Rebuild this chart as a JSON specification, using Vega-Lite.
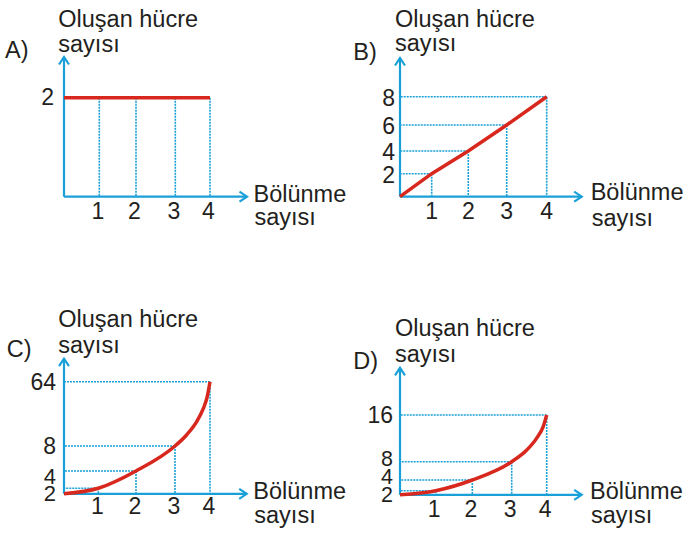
{
  "$schema": "https://vega.github.io/schema/vega-lite/v6.json",
  "width": 686,
  "height": 534,
  "autosize": {"type": "none"},
  "padding": 0,
  "background": "white",
  "datasets": {
    "A": [{"bolunme": 0, "hucre": 2}, {"bolunme": 1, "hucre": 2}, {"bolunme": 2, "hucre": 2}, {"bolunme": 3, "hucre": 2}, {"bolunme": 4, "hucre": 2}],
    "B": [{"bolunme": 0, "hucre": 0}, {"bolunme": 1, "hucre": 2}, {"bolunme": 2, "hucre": 4}, {"bolunme": 3, "hucre": 6}, {"bolunme": 4, "hucre": 8}],
    "C": [{"bolunme": 0, "hucre": 1}, {"bolunme": 1, "hucre": 2}, {"bolunme": 2, "hucre": 4}, {"bolunme": 3, "hucre": 8}, {"bolunme": 4, "hucre": 64}],
    "C_egri": [{"bolunme": 0, "hucre": 1}, {"bolunme": 1, "hucre": 2}, {"bolunme": 2, "hucre": 4}, {"bolunme": 3, "hucre": 8}, {"bolunme": 3.33, "hucre": 17.6}, {"bolunme": 3.62, "hucre": 29.2}, {"bolunme": 3.81, "hucre": 40.8}, {"bolunme": 3.92, "hucre": 50.9}, {"bolunme": 4, "hucre": 64}],
    "D": [{"bolunme": 0, "hucre": 1}, {"bolunme": 1, "hucre": 2}, {"bolunme": 2, "hucre": 4}, {"bolunme": 3, "hucre": 8}, {"bolunme": 4, "hucre": 16}],
    "D_egri": [{"bolunme": 0, "hucre": 1}, {"bolunme": 1, "hucre": 2}, {"bolunme": 2, "hucre": 4}, {"bolunme": 3, "hucre": 8}, {"bolunme": 3.43, "hucre": 10.0}, {"bolunme": 3.71, "hucre": 12.0}, {"bolunme": 3.9, "hucre": 14.0}, {"bolunme": 4, "hucre": 16}]
  },
  "resolve": {"scale": {"x": "independent", "y": "independent"}},
  "layer": [
    {
      "data": {"name": "A"},
      "layer": [
        {"transform": [{"filter": "datum.bolunme > 0"}],
         "mark": {"type": "rule", "color": "#19a0d8", "strokeWidth": 1.6, "strokeDash": [2, 1]},
         "encoding": {
           "x": {"field": "bolunme", "type": "quantitative", "scale": {"domain": [0, 1, 2, 3, 4, 5], "range": [64, 99.3, 136, 175.3, 210, 247]}},
           "y": {"field": "hucre", "type": "quantitative", "scale": {"domain": [0, 2, 3], "range": [196.7, 97.7, 57]}},
           "y2": {"datum": 0}}},
        {"transform": [{"filter": "datum.bolunme > 0"}],
         "mark": {"type": "rule", "color": "#19a0d8", "strokeWidth": 1.6, "strokeDash": [2, 1]},
         "encoding": {"x": {"field": "bolunme", "type": "quantitative"}, "x2": {"datum": 0}, "y": {"field": "hucre", "type": "quantitative"}}},
        {"data": {"values": [{}]}, "mark": {"type": "rule", "color": "#19a0d8", "strokeWidth": 2.2},
         "encoding": {"x": {"datum": 0}, "y": {"datum": 0}, "y2": {"datum": 3}}},
        {"data": {"values": [{}]}, "mark": {"type": "rule", "color": "#19a0d8", "strokeWidth": 2.2},
         "encoding": {"x": {"datum": 0}, "x2": {"datum": 5}, "y": {"datum": 0}}},
        {"data": {"values": [{}]}, "mark": {"type": "point", "shape": "M-1,1.5L0,0L1,1.5", "filled": false, "stroke": "#19a0d8", "strokeWidth": 2.2, "size": 100, "opacity": 1},
         "encoding": {"x": {"datum": 0}, "y": {"datum": 3}}},
        {"data": {"values": [{}]}, "mark": {"type": "point", "shape": "M-1.5,-1L0,0L-1.5,1", "filled": false, "stroke": "#19a0d8", "strokeWidth": 2.2, "size": 100, "opacity": 1},
         "encoding": {"x": {"datum": 5}, "y": {"datum": 0}}},
        {"mark": {"type": "line", "color": "#d8281e", "strokeWidth": 3.5},
         "encoding": {"x": {"field": "bolunme", "type": "quantitative"}, "y": {"field": "hucre", "type": "quantitative"}}},
        {"transform": [{"filter": "datum.bolunme > 0"}],
         "mark": {"type": "text", "dy": 15, "dx": -1.5},
         "encoding": {"x": {"field": "bolunme", "type": "quantitative"}, "y": {"datum": 0}, "text": {"field": "bolunme", "type": "quantitative"}}},
        {"transform": [{"filter": "datum.bolunme > 0"}, {"aggregate": [{"op": "count", "as": "n"}], "groupby": ["hucre"]}],
         "mark": {"type": "text", "align": "right", "dx": -10, "dy": 0},
         "encoding": {"x": {"datum": 0}, "y": {"field": "hucre", "type": "quantitative"}, "text": {"field": "hucre", "type": "quantitative"}}},
        {"data": {"values": [{}]}, "mark": {"type": "text", "text": "Oluşan hücre", "fontSize": 23.5, "align": "left", "baseline": "alphabetic", "dx": -5.7, "dy": -30.3},
         "encoding": {"x": {"datum": 0}, "y": {"datum": 3}}},
        {"data": {"values": [{}]}, "mark": {"type": "text", "text": "sayısı", "fontSize": 23.5, "align": "left", "baseline": "alphabetic", "dx": -5.7, "dy": -5.3},
         "encoding": {"x": {"datum": 0}, "y": {"datum": 3}}},
        {"data": {"values": [{}]}, "mark": {"type": "text", "text": "A)", "fontSize": 23.5, "align": "left", "baseline": "alphabetic", "dx": -59, "dy": 1},
         "encoding": {"x": {"datum": 0}, "y": {"datum": 3}}},
        {"data": {"values": [{}]}, "mark": {"type": "text", "text": "Bölünme", "fontSize": 23.5, "align": "left", "baseline": "alphabetic", "dx": 6.5, "dy": 5},
         "encoding": {"x": {"datum": 5}, "y": {"datum": 0}}},
        {"data": {"values": [{}]}, "mark": {"type": "text", "text": "sayısı", "fontSize": 23.5, "align": "left", "baseline": "alphabetic", "dx": 7.5, "dy": 28.5},
         "encoding": {"x": {"datum": 5}, "y": {"datum": 0}}}
      ]
    },
    {
      "data": {"name": "B"},
      "layer": [
        {"transform": [{"filter": "datum.bolunme > 0"}],
         "mark": {"type": "rule", "color": "#19a0d8", "strokeWidth": 1.6, "strokeDash": [2, 1]},
         "encoding": {
           "x": {"field": "bolunme", "type": "quantitative", "scale": {"domain": [0, 1, 2, 3, 4, 5], "range": [400, 431.7, 468.3, 506.7, 546.7, 581.7]}},
           "y": {"field": "hucre", "type": "quantitative", "scale": {"domain": [0, 2, 4, 6, 8, 10], "range": [196.7, 173.7, 151, 125, 96.7, 58]}},
           "y2": {"datum": 0}}},
        {"transform": [{"filter": "datum.bolunme > 0"}],
         "mark": {"type": "rule", "color": "#19a0d8", "strokeWidth": 1.6, "strokeDash": [2, 1]},
         "encoding": {"x": {"field": "bolunme", "type": "quantitative"}, "x2": {"datum": 0}, "y": {"field": "hucre", "type": "quantitative"}}},
        {"data": {"values": [{}]}, "mark": {"type": "rule", "color": "#19a0d8", "strokeWidth": 2.2},
         "encoding": {"x": {"datum": 0}, "y": {"datum": 0}, "y2": {"datum": 10}}},
        {"data": {"values": [{}]}, "mark": {"type": "rule", "color": "#19a0d8", "strokeWidth": 2.2},
         "encoding": {"x": {"datum": 0}, "x2": {"datum": 5}, "y": {"datum": 0}}},
        {"data": {"values": [{}]}, "mark": {"type": "point", "shape": "M-1,1.5L0,0L1,1.5", "filled": false, "stroke": "#19a0d8", "strokeWidth": 2.2, "size": 100, "opacity": 1},
         "encoding": {"x": {"datum": 0}, "y": {"datum": 10}}},
        {"data": {"values": [{}]}, "mark": {"type": "point", "shape": "M-1.5,-1L0,0L-1.5,1", "filled": false, "stroke": "#19a0d8", "strokeWidth": 2.2, "size": 100, "opacity": 1},
         "encoding": {"x": {"datum": 5}, "y": {"datum": 0}}},
        {"mark": {"type": "line", "color": "#d8281e", "strokeWidth": 3.5},
         "encoding": {"x": {"field": "bolunme", "type": "quantitative"}, "y": {"field": "hucre", "type": "quantitative"}}},
        {"transform": [{"filter": "datum.bolunme > 0"}],
         "mark": {"type": "text", "dy": 15, "dx": 0},
         "encoding": {"x": {"field": "bolunme", "type": "quantitative"}, "y": {"datum": 0}, "text": {"field": "bolunme", "type": "quantitative"}}},
        {"transform": [{"filter": "datum.bolunme > 0"}, {"aggregate": [{"op": "count", "as": "n"}], "groupby": ["hucre"]}],
         "mark": {"type": "text", "align": "right", "dx": -5, "dy": 2},
         "encoding": {"x": {"datum": 0}, "y": {"field": "hucre", "type": "quantitative"}, "text": {"field": "hucre", "type": "quantitative"}}},
        {"data": {"values": [{}]}, "mark": {"type": "text", "text": "Oluşan hücre", "fontSize": 23.5, "align": "left", "baseline": "alphabetic", "dx": -5, "dy": -31},
         "encoding": {"x": {"datum": 0}, "y": {"datum": 10}}},
        {"data": {"values": [{}]}, "mark": {"type": "text", "text": "sayısı", "fontSize": 23.5, "align": "left", "baseline": "alphabetic", "dx": -5, "dy": -7},
         "encoding": {"x": {"datum": 0}, "y": {"datum": 10}}},
        {"data": {"values": [{}]}, "mark": {"type": "text", "text": "B)", "fontSize": 23.5, "align": "left", "baseline": "alphabetic", "dx": -46.7, "dy": 2},
         "encoding": {"x": {"datum": 0}, "y": {"datum": 10}}},
        {"data": {"values": [{}]}, "mark": {"type": "text", "text": "Bölünme", "fontSize": 23.5, "align": "left", "baseline": "alphabetic", "dx": 9, "dy": 3.5},
         "encoding": {"x": {"datum": 5}, "y": {"datum": 0}}},
        {"data": {"values": [{}]}, "mark": {"type": "text", "text": "sayısı", "fontSize": 23.5, "align": "left", "baseline": "alphabetic", "dx": 10, "dy": 29},
         "encoding": {"x": {"datum": 5}, "y": {"datum": 0}}}
      ]
    },
    {
      "data": {"name": "C"},
      "layer": [
        {"transform": [{"filter": "datum.bolunme > 0"}],
         "mark": {"type": "rule", "color": "#19a0d8", "strokeWidth": 1.6, "strokeDash": [2, 1]},
         "encoding": {
           "x": {"field": "bolunme", "type": "quantitative", "scale": {"domain": [0, 1, 2, 3, 4, 5], "range": [64, 98.3, 136, 175, 210, 246.7]}},
           "y": {"field": "hucre", "type": "quantitative", "scale": {"domain": [1, 2, 4, 8, 64, 128], "range": [499.3, 488.3, 471, 446, 381.7, 358]}},
           "y2": {"datum": 1}}},
        {"transform": [{"filter": "datum.bolunme > 0"}],
         "mark": {"type": "rule", "color": "#19a0d8", "strokeWidth": 1.6, "strokeDash": [2, 1]},
         "encoding": {"x": {"field": "bolunme", "type": "quantitative"}, "x2": {"datum": 0}, "y": {"field": "hucre", "type": "quantitative"}}},
        {"data": {"values": [{}]}, "mark": {"type": "rule", "color": "#19a0d8", "strokeWidth": 2.2},
         "encoding": {"x": {"datum": 0}, "y": {"datum": 1}, "y2": {"datum": 128}}},
        {"data": {"values": [{}]}, "mark": {"type": "rule", "color": "#19a0d8", "strokeWidth": 2.2},
         "encoding": {"x": {"datum": 0}, "x2": {"datum": 5}, "y": {"datum": 1}}},
        {"data": {"values": [{}]}, "mark": {"type": "point", "shape": "M-1,1.5L0,0L1,1.5", "filled": false, "stroke": "#19a0d8", "strokeWidth": 2.2, "size": 100, "opacity": 1},
         "encoding": {"x": {"datum": 0}, "y": {"datum": 128}}},
        {"data": {"values": [{}]}, "mark": {"type": "point", "shape": "M-1.5,-1L0,0L-1.5,1", "filled": false, "stroke": "#19a0d8", "strokeWidth": 2.2, "size": 100, "opacity": 1},
         "encoding": {"x": {"datum": 5}, "y": {"datum": 1}}},
        {"data": {"name": "C_egri"},
         "mark": {"type": "line", "color": "#d8281e", "strokeWidth": 3.5, "interpolate": "monotone"},
         "encoding": {"x": {"field": "bolunme", "type": "quantitative"}, "y": {"field": "hucre", "type": "quantitative"}}},
        {"transform": [{"filter": "datum.bolunme > 0"}],
         "mark": {"type": "text", "dy": 13.5, "dx": -1},
         "encoding": {"x": {"field": "bolunme", "type": "quantitative"}, "y": {"datum": 1}, "text": {"field": "bolunme", "type": "quantitative"}}},
        {"transform": [{"filter": "datum.bolunme > 0 && datum.hucre > 4"}],
         "mark": {"type": "text", "align": "right", "dx": -8, "dy": 1},
         "encoding": {"x": {"datum": 0}, "y": {"field": "hucre", "type": "quantitative"}, "text": {"field": "hucre", "type": "quantitative"}}},
        {"transform": [{"filter": "datum.bolunme > 0 && datum.hucre <= 4"}],
         "mark": {"type": "text", "align": "right", "dx": -8, "dy": 5.5, "fontSize": 22},
         "encoding": {"x": {"datum": 0}, "y": {"field": "hucre", "type": "quantitative"}, "text": {"field": "hucre", "type": "quantitative"}}},
        {"data": {"values": [{}]}, "mark": {"type": "text", "text": "Oluşan hücre", "fontSize": 23.5, "align": "left", "baseline": "alphabetic", "dx": -5.7, "dy": -31.3},
         "encoding": {"x": {"datum": 0}, "y": {"datum": 128}}},
        {"data": {"values": [{}]}, "mark": {"type": "text", "text": "sayısı", "fontSize": 23.5, "align": "left", "baseline": "alphabetic", "dx": -5.7, "dy": -5.5},
         "encoding": {"x": {"datum": 0}, "y": {"datum": 128}}},
        {"data": {"values": [{}]}, "mark": {"type": "text", "text": "C)", "fontSize": 23.5, "align": "left", "baseline": "alphabetic", "dx": -57.3, "dy": -1.3},
         "encoding": {"x": {"datum": 0}, "y": {"datum": 128}}},
        {"data": {"values": [{}]}, "mark": {"type": "text", "text": "Bölünme", "fontSize": 23.5, "align": "left", "baseline": "alphabetic", "dx": 6.6, "dy": 4.7},
         "encoding": {"x": {"datum": 5}, "y": {"datum": 1}}},
        {"data": {"values": [{}]}, "mark": {"type": "text", "text": "sayısı", "fontSize": 23.5, "align": "left", "baseline": "alphabetic", "dx": 7.6, "dy": 29.4},
         "encoding": {"x": {"datum": 5}, "y": {"datum": 1}}}
      ]
    },
    {
      "data": {"name": "D"},
      "layer": [
        {"transform": [{"filter": "datum.bolunme > 0"}],
         "mark": {"type": "rule", "color": "#19a0d8", "strokeWidth": 1.6, "strokeDash": [2, 1]},
         "encoding": {
           "x": {"field": "bolunme", "type": "quantitative", "scale": {"domain": [0, 1, 2, 3, 4, 5], "range": [400, 435.7, 472.3, 511.7, 546.7, 581.7]}},
           "y": {"field": "hucre", "type": "quantitative", "scale": {"domain": [1, 2, 4, 8, 16, 32], "range": [499, 490.7, 480, 461.7, 415, 359]}},
           "y2": {"datum": 1}}},
        {"transform": [{"filter": "datum.bolunme > 0"}],
         "mark": {"type": "rule", "color": "#19a0d8", "strokeWidth": 1.6, "strokeDash": [2, 1]},
         "encoding": {"x": {"field": "bolunme", "type": "quantitative"}, "x2": {"datum": 0}, "y": {"field": "hucre", "type": "quantitative"}}},
        {"data": {"values": [{}]}, "mark": {"type": "rule", "color": "#19a0d8", "strokeWidth": 2.2},
         "encoding": {"x": {"datum": 0}, "y": {"datum": 1}, "y2": {"datum": 32}}},
        {"data": {"values": [{}]}, "mark": {"type": "rule", "color": "#19a0d8", "strokeWidth": 2.2},
         "encoding": {"x": {"datum": 0}, "x2": {"datum": 5}, "y": {"datum": 1}}},
        {"data": {"values": [{}]}, "mark": {"type": "point", "shape": "M-1,1.5L0,0L1,1.5", "filled": false, "stroke": "#19a0d8", "strokeWidth": 2.2, "size": 100, "opacity": 1},
         "encoding": {"x": {"datum": 0}, "y": {"datum": 32}}},
        {"data": {"values": [{}]}, "mark": {"type": "point", "shape": "M-1.5,-1L0,0L-1.5,1", "filled": false, "stroke": "#19a0d8", "strokeWidth": 2.2, "size": 100, "opacity": 1},
         "encoding": {"x": {"datum": 5}, "y": {"datum": 1}}},
        {"data": {"name": "D_egri"},
         "mark": {"type": "line", "color": "#d8281e", "strokeWidth": 3.5, "interpolate": "monotone"},
         "encoding": {"x": {"field": "bolunme", "type": "quantitative"}, "y": {"field": "hucre", "type": "quantitative"}}},
        {"transform": [{"filter": "datum.bolunme > 0"}],
         "mark": {"type": "text", "dy": 15, "dx": -1.5},
         "encoding": {"x": {"field": "bolunme", "type": "quantitative"}, "y": {"datum": 1}, "text": {"field": "bolunme", "type": "quantitative"}}},
        {"transform": [{"filter": "datum.bolunme > 0 && datum.hucre > 8"}],
         "mark": {"type": "text", "align": "right", "dx": -7, "dy": 1},
         "encoding": {"x": {"datum": 0}, "y": {"field": "hucre", "type": "quantitative"}, "text": {"field": "hucre", "type": "quantitative"}}},
        {"transform": [{"filter": "datum.bolunme > 0 && datum.hucre > 2 && datum.hucre <= 8"}],
         "mark": {"type": "text", "align": "right", "dx": -7, "dy": -2, "fontSize": 21.5},
         "encoding": {"x": {"datum": 0}, "y": {"field": "hucre", "type": "quantitative"}, "text": {"field": "hucre", "type": "quantitative"}}},
        {"transform": [{"filter": "datum.bolunme > 0 && datum.hucre <= 2"}],
         "mark": {"type": "text", "align": "right", "dx": -7, "dy": 5, "fontSize": 21.5},
         "encoding": {"x": {"datum": 0}, "y": {"field": "hucre", "type": "quantitative"}, "text": {"field": "hucre", "type": "quantitative"}}},
        {"data": {"values": [{}]}, "mark": {"type": "text", "text": "Oluşan hücre", "fontSize": 23.5, "align": "left", "baseline": "alphabetic", "dx": -5, "dy": -32},
         "encoding": {"x": {"datum": 0}, "y": {"datum": 32}}},
        {"data": {"values": [{}]}, "mark": {"type": "text", "text": "sayısı", "fontSize": 23.5, "align": "left", "baseline": "alphabetic", "dx": -5, "dy": -6},
         "encoding": {"x": {"datum": 0}, "y": {"datum": 32}}},
        {"data": {"values": [{}]}, "mark": {"type": "text", "text": "D)", "fontSize": 23.5, "align": "left", "baseline": "alphabetic", "dx": -46.7, "dy": 1},
         "encoding": {"x": {"datum": 0}, "y": {"datum": 32}}},
        {"data": {"values": [{}]}, "mark": {"type": "text", "text": "Bölünme", "fontSize": 23.5, "align": "left", "baseline": "alphabetic", "dx": 8.3, "dy": 4.3},
         "encoding": {"x": {"datum": 5}, "y": {"datum": 1}}},
        {"data": {"values": [{}]}, "mark": {"type": "text", "text": "sayısı", "fontSize": 23.5, "align": "left", "baseline": "alphabetic", "dx": 9.3, "dy": 28},
         "encoding": {"x": {"datum": 5}, "y": {"datum": 1}}}
      ]
    }
  ],
  "config": {
    "view": {"stroke": null},
    "axis": {"disable": true},
    "text": {"font": "Liberation Sans", "fontSize": 23, "fill": "#231f20"}
  }
}
